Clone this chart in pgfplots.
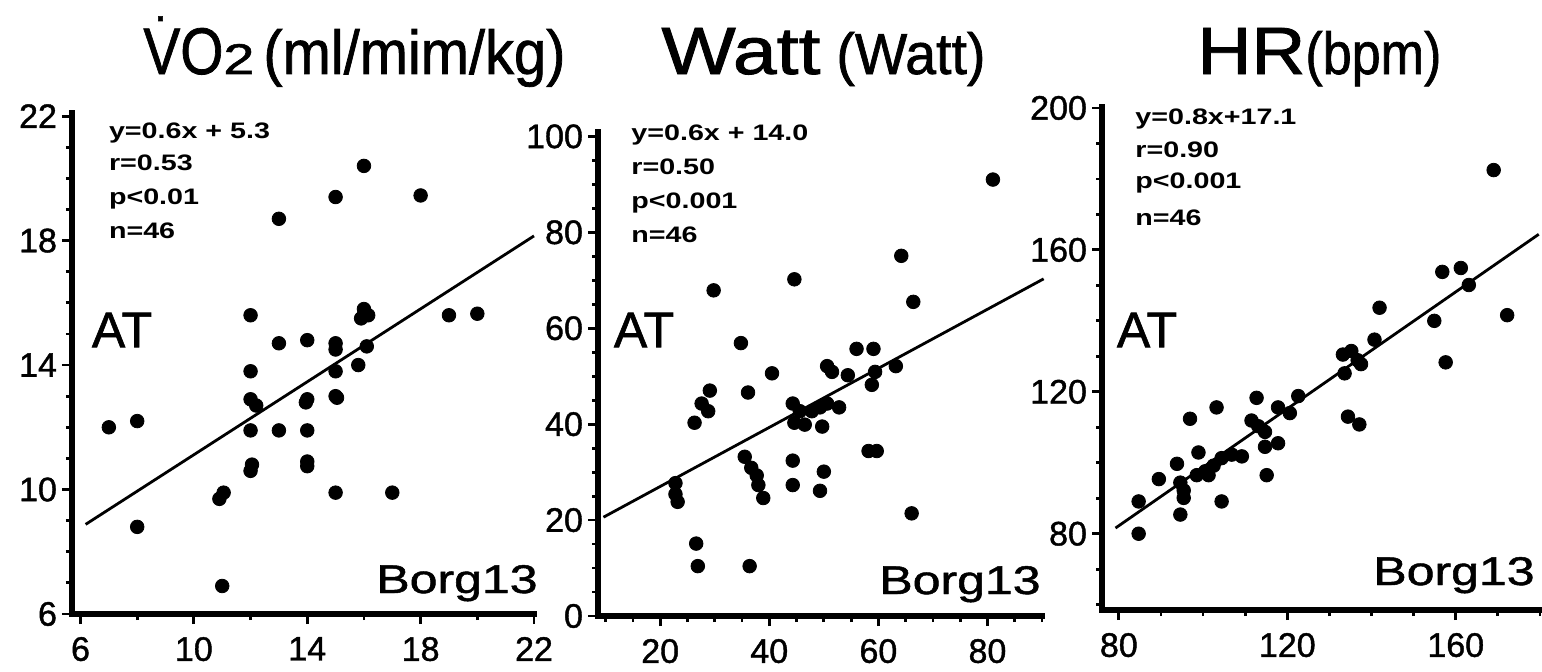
\documentclass[border=0pt]{standalone}
\usepackage{pgfplots}
\pgfplotsset{compat=1.18}
\usepackage{fontspec}
\setmainfont{Liberation Sans}
\newfontfamily\heavy[FakeBold=1.2]{Liberation Sans}
\usepackage{graphicx}

\pgfplotstableread{
x y
7 12.0
8 12.2
8 8.8
11 6.9
10.9 9.7
11.05 9.9
12 15.6
12 13.8
12 12.9
12.2 12.7
12 11.9
12.05 10.8
12 10.6
13 14.7
13 18.7
13 11.9
14 14.8
14 12.9
13.95 12.8
14 11.9
14 10.9
14 10.75
15 19.4
15 14.7
15 14.5
15 13.8
15 13.0
15.05 12.95
15 9.9
16 20.4
16 15.8
16 15.6
16.15 15.6
15.9 15.5
15.8 14.0
16.1 14.6
17 9.9
18 19.45
19 15.6
20 15.65
}\vodata

\pgfplotstableread{
x y
81 91
64.2 75.1
44.6 70.2
29.8 67.9
66.4 65.5
34.8 56.9
40.5 50.6
36.1 46.6
29.1 47.0
27.6 44.3
28.8 42.7
26.3 40.3
50.6 52.1
51.5 50.9
54.4 50.2
56 55.7
59.1 55.7
59.4 50.9
58.8 48.2
63.2 52.1
44.3 44.3
45.6 42.7
44.6 40.3
46.5 39.9
47.8 42.7
49.3 43.5
50.6 44.3
52.8 43.5
49.7 39.5
44.3 32.4
50 30.1
44.3 27.3
49.3 26.1
58.2 34.4
59.7 34.4
66.1 21.4
35.5 33.2
36.7 30.9
37.7 29.3
38 27.3
38.9 24.6
22.8 27.7
22.8 25.4
23.2 23.8
26.6 15.1
26.9 10.4
36.4 10.4
}\wattdata

\pgfplotstableread{
x y
169.0 182.5
156.8 153.8
161.2 154.9
163.1 150.1
172.2 141.6
154.9 140.0
157.6 128.3
141.9 143.7
140.7 134.7
133.2 130.5
135.2 131.5
136.7 128.9
133.6 125.2
137.5 127.8
134.4 113.0
137.1 110.8
122.6 118.8
117.8 115.6
120.6 114.0
117.8 105.5
112.7 118.3
111.5 111.9
113.1 110.3
114.7 108.7
114.7 104.5
115.1 96.5
103.2 115.6
96.9 112.4
109.2 101.8
106.8 102.3
104.4 101.3
102.5 99.2
100.5 97.6
98.5 96.5
98.9 102.9
101.3 96.5
104.4 89.1
93.8 99.7
89.5 95.4
94.6 94.4
95.4 92.2
95.4 90.1
94.6 85.4
84.7 89.1
84.7 80.0
}\hrdata

\pgfplotsset{
  panel/.style={
    scale only axis, anchor=south west,
    axis x line*=bottom, axis y line*=left,
    axis line style={line width=2.6pt, line cap=rect},
    tick align=outside,
    tick style={black, line width=1.4pt},
    major tick length=5pt, minor tick length=3pt,
    ticklabel style={font=\heavy\fontsize{17}{17}\selectfont},
    xticklabel style={yshift=-3pt},
    yticklabel style={xshift=1pt},
    /pgf/number format/assume math mode=true,
    clip=false,
  },
  dots/.style={only marks, mark=*, mark size=3.4pt, mark options={fill=black, draw=black}},
  fitline/.style={no marks, line width=1.4pt, black},
}

\newcommand{\ann}[1]{\scalebox{1.28}[1]{\fontsize{11.2}{11.2}\selectfont\bfseries #1}}
\newcommand{\borg}{\scalebox{1.25}[1]{\heavy\fontsize{20}{20}\selectfont Borg13}}
\newcommand{\AT}{{\heavy\fontsize{25}{25}\selectfont AT}}

\begin{document}
\begin{tikzpicture}
\path[use as bounding box] (0,0) rectangle (771pt,335.5pt);

% Panel 1: VO2
\begin{axis}[panel, at={(36pt,28.5pt)}, width=231pt, height=250.5pt,
  xmin=5.7, xmax=22.0, ymin=6, ymax=22.1,
  xtick={6,10,14,18,22}, minor xtick={8,12,16,20},
  ytick={6,10,14,18,22}, minor ytick={7,8,9,11,12,13,15,16,17,19,20,21}]
\addplot[dots] table[x=x,y=y] {\vodata};
\addplot[fitline] coordinates {(6.18,8.88) (22,18.15)};
\end{axis}

% Panel 2: Watt
\begin{axis}[panel, at={(299pt,27.5pt)}, width=222pt, height=242.2pt,
  xmin=8.6, xmax=90, ymin=0, ymax=101,
  xtick={20,40,60,80}, minor xtick={10,15,25,30,35,45,50,55,65,70,75,85,90},
  ytick={0,20,40,60,80,100}, minor ytick={5,10,15,25,30,35,45,50,55,65,70,75,85,90,95}]
\addplot[dots] table[x=x,y=y] {\wattdata};
\addplot[fitline] coordinates {(9.6,20.6) (90.3,70.3)};
\end{axis}

% Panel 3: HR
\begin{axis}[panel, at={(551pt,30.5pt)}, width=219pt, height=251.9pt,
  xmin=76, xmax=180, ymin=58.5, ymax=200.5,
  xtick={80,120,160}, minor xtick={90,100,110,130,140,150,170,180},
  ytick={80,120,160,200}, minor ytick={60,70,90,100,110,130,140,150,170,180,190}]
\addplot[dots] table[x=x,y=y] {\hrdata};
\addplot[fitline] coordinates {(79.2,81.6) (179.7,164.4)};
\end{axis}

% Titles
\node[anchor=base west, inner sep=0] at (71.5pt,298.5pt) {\heavy\makebox[0pt][l]{\hspace{5.5pt}\raisebox{26.5pt}{\fontsize{22}{22}\selectfont .}}\resizebox{40pt}{23pt}{VO}\resizebox{15.5pt}{15pt}{2}};
\node[anchor=base west, inner sep=0] at (131.5pt,298.5pt) {\heavy\resizebox{151pt}{22.5pt}{(ml/mim/kg)}};
\node[anchor=base west, inner sep=0] at (330.5pt,298.5pt) {\heavy\resizebox{79.5pt}{23pt}{Watt}};
\node[anchor=base west, inner sep=0] at (418pt,298.5pt) {\heavy\resizebox{74.5pt}{21pt}{(Watt)}};
\node[anchor=base west, inner sep=0] at (598.5pt,298.5pt) {\heavy\resizebox{54pt}{23pt}{HR}};
\node[anchor=base west, inner sep=0] at (652.5pt,298.5pt) {\heavy\resizebox{68pt}{21.5pt}{(bpm)}};

% Annotations panel 1
\node[anchor=base west, inner sep=0] at (54.3pt,266.25pt) {\ann{y=0.6x + 5.3}};
\node[anchor=base west, inner sep=0] at (54.3pt,250.25pt) {\ann{r=0.53}};
\node[anchor=base west, inner sep=0] at (54.3pt,233.25pt) {\ann{p<0.01}};
\node[anchor=base west, inner sep=0] at (54.3pt,216.25pt) {\ann{n=46}};
% Annotations panel 2
\node[anchor=base west, inner sep=0] at (315.5pt,265.25pt) {\ann{y=0.6x + 14.0}};
\node[anchor=base west, inner sep=0] at (315.5pt,248.25pt) {\ann{r=0.50}};
\node[anchor=base west, inner sep=0] at (315.5pt,231.5pt) {\ann{p<0.001}};
\node[anchor=base west, inner sep=0] at (315.5pt,214.5pt) {\ann{n=46}};
% Annotations panel 3
\node[anchor=base west, inner sep=0] at (567.5pt,273pt) {\ann{y=0.8x+17.1}};
\node[anchor=base west, inner sep=0] at (567.5pt,257pt) {\ann{r=0.90}};
\node[anchor=base west, inner sep=0] at (567.5pt,241pt) {\ann{p<0.001}};
\node[anchor=base west, inner sep=0] at (567.5pt,223pt) {\ann{n=46}};

% AT labels
\node[anchor=center, inner sep=0] at (61pt,170.5pt) {\AT};
\node[anchor=center, inner sep=0] at (322pt,170.5pt) {\AT};
\node[anchor=center, inner sep=0] at (573.5pt,170.5pt) {\AT};

% Borg13 labels
\node[anchor=base east, inner sep=0] at (269pt,39pt) {\borg};
\node[anchor=base east, inner sep=0] at (520.5pt,38.5pt) {\borg};
\node[anchor=base east, inner sep=0] at (767.5pt,43pt) {\borg};
\end{tikzpicture}
\end{document}
